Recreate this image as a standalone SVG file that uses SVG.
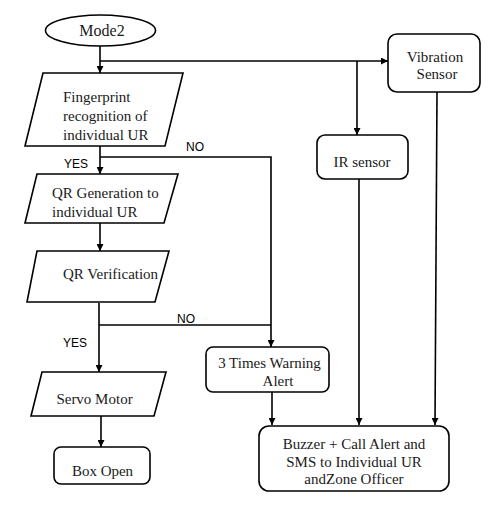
<svg xmlns="http://www.w3.org/2000/svg" width="492" height="516" viewBox="0 0 492 516">
<defs>
<marker id="arr" viewBox="0 0 10 10" refX="10" refY="5" markerWidth="7" markerHeight="7" markerUnits="userSpaceOnUse" orient="auto">
<path d="M0,0 L10,5 L0,10 z" fill="#000"/>
</marker>
</defs>
<style>
.shape{fill:#fff;stroke:#000;stroke-width:1.6}
.t{font-family:"Liberation Serif","DejaVu Serif",serif;font-size:15px;fill:#1a1a1a}
.c{text-anchor:middle}
.lbl{font-family:"Liberation Sans",Arial,sans-serif;font-size:12px;fill:#000}
.ln{fill:none;stroke:#000;stroke-width:1.6}
.la{fill:none;stroke:#000;stroke-width:1.6;marker-end:url(#arr)}
</style>
<rect width="492" height="516" fill="#fff"/>
<g id="connectors">
<line class="la" x1="100" y1="46" x2="100" y2="73"/>
<line class="la" x1="100" y1="61" x2="388" y2="61"/>
<line class="la" x1="357" y1="61" x2="357" y2="135"/>
<line class="la" x1="100" y1="146" x2="100" y2="174"/>
<polyline class="la" points="100,157 271,157 271,347"/>
<line class="la" x1="100" y1="223" x2="100" y2="251"/>
<line class="la" x1="99" y1="303" x2="99" y2="372"/>
<line class="ln" x1="99" y1="325" x2="271" y2="325"/>
<line class="la" x1="101" y1="416" x2="101" y2="447"/>
<line class="la" x1="272" y1="392" x2="272" y2="425"/>
<line class="la" x1="359" y1="179" x2="359" y2="425"/>
<line class="la" x1="437" y1="92" x2="435" y2="425"/>
<text class="lbl" x="64" y="168">YES</text>
<text class="lbl" x="186" y="151">NO</text>
<text class="lbl" x="177" y="323">NO</text>
<text class="lbl" x="63" y="347">YES</text>
</g>
<g id="mode2">
<ellipse class="shape" cx="100.5" cy="30.5" rx="55" ry="15.5"/>
<text class="t c" x="102" y="36" style="font-size:16px">Mode2</text>
</g>
<g id="fingerprint">
<polygon class="shape" points="43,73 183,73 165,146 25,146"/>
<text class="t" x="63" y="102">Fingerprint</text>
<text class="t" x="63" y="121">recognition of</text>
<text class="t" x="63" y="140">individual UR</text>
</g>
<g id="qrgen">
<polygon class="shape" points="37,174 178,174 164,223 25,223"/>
<text class="t" x="52" y="198">QR Generation to</text>
<text class="t" x="52" y="217">individual UR</text>
</g>
<g id="qrverif">
<polygon class="shape" points="37,251 169,251 155,302 27,302"/>
<text class="t" x="63" y="279">QR Verification</text>
</g>
<g id="servo">
<polygon class="shape" points="42,372 166,372 154,416 31,416"/>
<text class="t c" x="94.5" y="404">Servo Motor</text>
</g>
<g id="boxopen">
<rect class="shape" x="54" y="447" width="96" height="37" rx="7"/>
<text class="t c" x="102.5" y="476">Box Open</text>
</g>
<g id="vibration">
<rect class="shape" x="388" y="34" width="92" height="58" rx="9"/>
<text class="t c" x="435" y="62">Vibration</text>
<text class="t c" x="437" y="79">Sensor</text>
</g>
<g id="irsensor">
<rect class="shape" x="317" y="135" width="91" height="44" rx="8"/>
<text class="t c" x="362" y="167">IR sensor</text>
</g>
<g id="warning">
<rect class="shape" x="206" y="347" width="123" height="45" rx="7"/>
<text class="t c" x="269.5" y="368">3 Times Warning</text>
<text class="t c" x="278" y="386">Alert</text>
</g>
<g id="buzzer">
<rect class="shape" x="259" y="426" width="190" height="65" rx="10"/>
<text class="t c" x="354" y="449">Buzzer + Call Alert and</text>
<text class="t c" x="354" y="467">SMS to Individual UR</text>
<text class="t c" x="354" y="484">andZone Officer</text>
</g>
</svg>
